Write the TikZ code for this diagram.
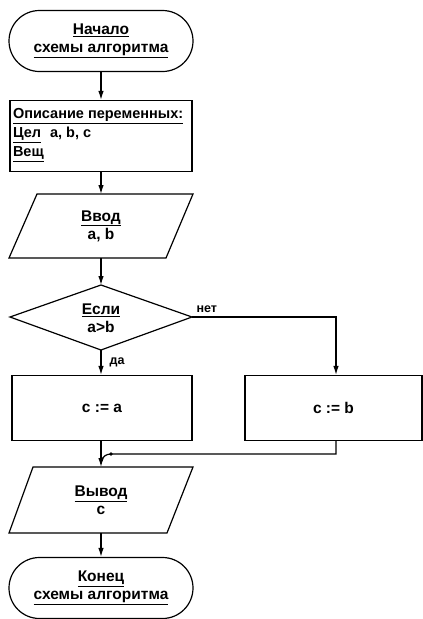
\documentclass[tikz,border=0pt]{standalone}
\usepackage{fontspec}
\setmainfont{Liberation Sans}
\usetikzlibrary{shapes.misc,arrows.meta}
\begin{document}
\begin{tikzpicture}[x=1pt,y=-1pt,
  line width=1.2pt,
  every node/.style={font=\bfseries\fontsize{15.5}{18}\selectfont, inner sep=0pt, align=center},
  term/.style={draw, rounded rectangle, minimum width=184pt, minimum height=61pt},
  boxr/.style={draw, rectangle},
  outline/.style={draw, line width=1.2pt},
  arr/.style={-{Latex[length=9pt,width=5.5pt]}, line width=1.2pt},
  lbl/.style={font=\bfseries\fontsize{12.5}{14}\selectfont}
]
\useasboundingbox (0,0) rectangle (423,619);

% start
\node[term] (start) at (101,41) {\underline{Начало}\\\underline{схемы алгоритма}};

% description box
\node[boxr, minimum width=182pt, minimum height=71pt] (desc) at (101,136) {};
\node[anchor=north west, align=left, font=\bfseries\fontsize{14.5}{19}\selectfont] (desctext) at ([xshift=3pt,yshift=-8pt]desc.north west)
  {\underline{Описание переменных:}\\\underline{Цел}\hspace{9pt}a, b, c\\\underline{Вещ}};

% input parallelogram
\node[minimum width=100pt, minimum height=65pt] (inp) at (101,226) {\underline{Ввод}\\a, b};
\coordinate (i1) at (37,194); \coordinate (i2) at (193,194);
\coordinate (i3) at (166,258); \coordinate (i4) at (9,258);
\draw[outline] (i1) -- (i2) -- (i3) -- (i4) -- cycle;

% decision
\node[minimum width=100pt, minimum height=66pt] (dec) at (101,318) {\underline{Если}\\a>b};
\coordinate (dt) at (101,285); \coordinate (dr) at (192,317);
\coordinate (db) at (101,350); \coordinate (dl) at (10,317);
\draw[outline] (dt) -- (dr) -- (db) -- (dl) -- cycle;

% boxes
\node[boxr, minimum width=180pt, minimum height=65pt] (ba) at (102,408) {c := a};
\node[boxr, minimum width=177pt, minimum height=65pt] (bb) at (333.5,408) {c := b};

% output parallelogram
\node[minimum width=100pt, minimum height=66pt] (out) at (101,500) {\underline{Вывод}\\c};
\coordinate (o1) at (33,467); \coordinate (o2) at (193,467);
\coordinate (o3) at (167,533); \coordinate (o4) at (9,533);
\draw[outline] (o1) -- (o2) -- (o3) -- (o4) -- cycle;

% end
\node[term] (end) at (101,588) {\underline{Конец}\\\underline{схемы алгоритма}};

% connectors
\draw[arr] (start.south) -- (desc.north);
\draw[arr] (desc.south) -- (101,194);
\draw[arr] (101,258) -- (dt);
\draw[arr] (db) -- (ba.north -| db);
\coordinate (nr) at (336,317);
\draw[arr] (dr) -- (nr) -- (bb.north -| nr);
\coordinate (mj) at (101,454);
\coordinate (mr) at (336,454);
\draw (bb.south -| mr) -- (mr) -- (111,454) to[out=180,in=90] (102,461);
\fill (111,454) circle (1.8pt);
\draw[arr] (ba.south -| mj) -- (o1 -| mj);
\draw[arr] (101,533) -- (end.north);

% labels
\node[lbl, anchor=south west] (net) at (196,313) {нет};
\node[lbl, anchor=west] (da) at (109,362) {да};
\end{tikzpicture}
\end{document}
